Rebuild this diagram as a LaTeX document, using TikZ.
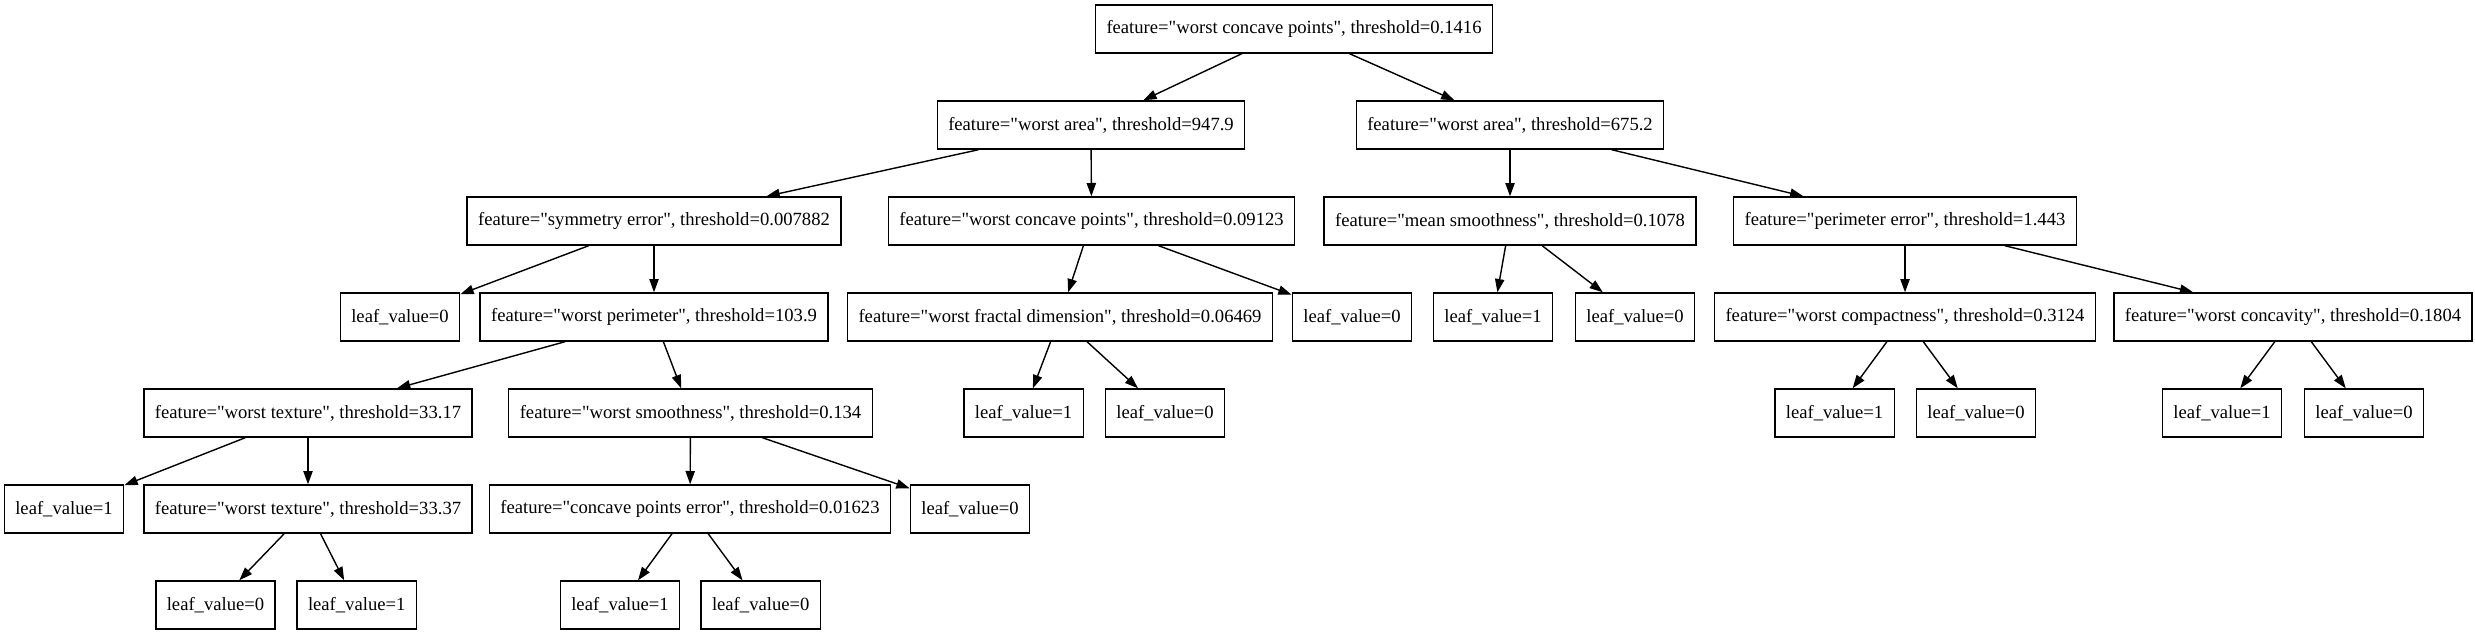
\documentclass[tikz,border=0pt]{standalone}
\usepackage{fontspec}
\setmainfont{Liberation Serif}[Ligatures=TeXOff]
\usetikzlibrary{arrows.meta}

\begin{document}
\begin{tikzpicture}[
  split/.style={draw, line width=0.4pt, fill=white, minimum height=0.48cm,
    inner xsep=0.11cm, inner ysep=0pt, font=\fontsize{5.3}{6}\selectfont},
  leaf/.style={split, minimum width=1.18cm},
  arr/.style={-{Triangle[length=1.33mm, width=0.93mm]}, line width=0.4pt}
]
\useasboundingbox (0,0) rectangle (24.75,-6.35);

% Root
\node[split] (root) at (12.94,-0.29) {feature="worst concave points", threshold=0.1416};

% Depth 1
\node[split] (areaL) at (10.91,-1.25) {feature="worst area", threshold=947.9};
\node[split] (areaR) at (15.10,-1.25) {feature="worst area", threshold=675.2};

% Depth 2
\node[split] (symerr) at (6.54,-2.21) {feature="symmetry error", threshold=0.007882};
\node[split] (concL) at (10.915,-2.21) {feature="worst concave points", threshold=0.09123};
\node[split] (meansm) at (15.10,-2.21) {feature="mean smoothness", threshold=0.1078};
\node[split] (perierr) at (19.05,-2.21) {feature="perimeter error", threshold=1.443};

% Depth 3
\node[leaf] (leafA) at (4.00,-3.17) {leaf\_value=0};
\node[split] (perim) at (6.54,-3.17) {feature="worst perimeter", threshold=103.9};
\node[split] (fractal) at (10.60,-3.17) {feature="worst fractal dimension", threshold=0.06469};
\node[leaf] (leafB) at (13.52,-3.17) {leaf\_value=0};
\node[leaf] (leafC) at (14.93,-3.17) {leaf\_value=1};
\node[leaf] (leafD) at (16.35,-3.17) {leaf\_value=0};
\node[split] (compact) at (19.05,-3.17) {feature="worst compactness", threshold=0.3124};
\node[split] (concav) at (22.93,-3.17) {feature="worst concavity", threshold=0.1804};

% Depth 4
\node[split] (textA) at (3.08,-4.13) {feature="worst texture", threshold=33.17};
\node[split] (smooth) at (6.905,-4.13) {feature="worst smoothness", threshold=0.134};
\node[leaf] (leafE) at (10.235,-4.13) {leaf\_value=1};
\node[leaf] (leafF) at (11.65,-4.13) {leaf\_value=0};
\node[leaf] (leafG) at (18.345,-4.13) {leaf\_value=1};
\node[leaf] (leafH) at (19.76,-4.13) {leaf\_value=0};
\node[leaf] (leafI) at (22.22,-4.13) {leaf\_value=1};
\node[leaf] (leafJ) at (23.64,-4.13) {leaf\_value=0};

% Depth 5
\node[leaf] (leafK) at (0.64,-5.09) {leaf\_value=1};
\node[split] (textB) at (3.08,-5.09) {feature="worst texture", threshold=33.37};
\node[split] (cperr) at (6.90,-5.09) {feature="concave points error", threshold=0.01623};
\node[leaf] (leafL) at (9.70,-5.09) {leaf\_value=0};

% Depth 6
\node[leaf] (leafM) at (2.155,-6.05) {leaf\_value=0};
\node[leaf] (leafN) at (3.567,-6.05) {leaf\_value=1};
\node[leaf] (leafO) at (6.20,-6.05) {leaf\_value=1};
\node[leaf] (leafP) at (7.607,-6.05) {leaf\_value=0};

\draw[arr] (root) -- (areaL);
\draw[arr] (root) -- (areaR);
\draw[arr] (areaL) -- (symerr);
\draw[arr] (areaL) -- (concL);
\draw[arr] (areaR) -- (meansm);
\draw[arr] (areaR) -- (perierr);
\draw[arr] (symerr) -- (leafA);
\draw[arr] (symerr) -- (perim);
\draw[arr] (concL) -- (fractal);
\draw[arr] (concL) -- (leafB);
\draw[arr] (meansm) -- (leafC);
\draw[arr] (meansm) -- (leafD);
\draw[arr] (perierr) -- (compact);
\draw[arr] (perierr) -- (concav);
\draw[arr] (perim) -- (textA);
\draw[arr] (perim) -- (smooth);
\draw[arr] (fractal) -- (leafE);
\draw[arr] (fractal) -- (leafF);
\draw[arr] (compact) -- (leafG);
\draw[arr] (compact) -- (leafH);
\draw[arr] (concav) -- (leafI);
\draw[arr] (concav) -- (leafJ);
\draw[arr] (textA) -- (leafK);
\draw[arr] (textA) -- (textB);
\draw[arr] (smooth) -- (cperr);
\draw[arr] (smooth) -- (leafL);
\draw[arr] (textB) -- (leafM);
\draw[arr] (textB) -- (leafN);
\draw[arr] (cperr) -- (leafO);
\draw[arr] (cperr) -- (leafP);

\end{tikzpicture}
\end{document}
